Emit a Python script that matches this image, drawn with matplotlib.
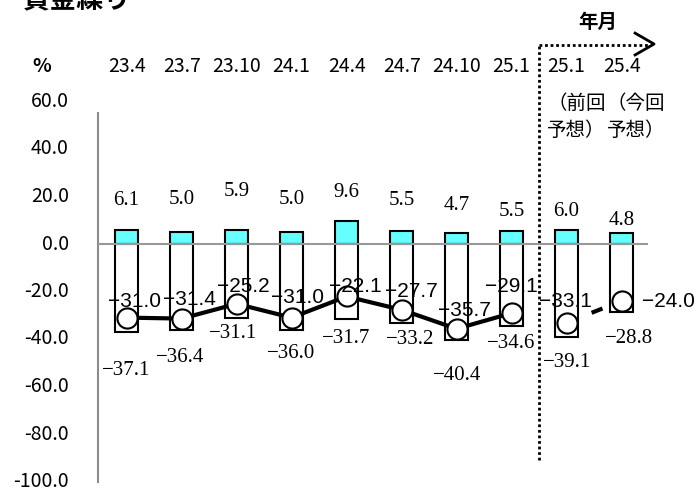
import numpy as np
import matplotlib.pyplot as plt

plt.rcParams['font.family'] = ['Noto Sans CJK JP', 'DejaVu Sans']
plt.rcParams['axes.unicode_minus'] = False

# データ
periods = ['23.4', '23.7', '23.10', '24.1', '24.4', '24.7', '24.10', '25.1', '25.1', '25.4']
up = [6.1, 5.0, 5.9, 5.0, 9.6, 5.5, 4.7, 5.5, 6.0, 4.8]
down = [-37.1, -36.4, -31.1, -36.0, -31.7, -33.2, -40.4, -34.6, -39.1, -28.8]
di = [-31.0, -31.4, -25.2, -31.0, -22.1, -27.7, -35.7, -29.1, -33.1, -24.0]
yticks = [60, 40, 20, 0, -20, -40, -60, -80, -100]
notes = [('（前回', '予想）'), ('（今回', '予想）')]

# ラベル位置（目で合わせた）
up_lab_y = [18.5, 18.9, 22.3, 18.9, 21.5, 18.5, 16.0, 13.5, 13.5, 10.1]
di_lab_x = [0.15, 1.15, 2.13, 3.10, 4.15, 5.17, 6.15, 6.99, 7.97, 9.85]
di_lab_y = [-24.4, -23.2, -17.7, -22.7, -18.1, -20.2, -27.8, -18.1, -24.4, -24.4]
dn_lab_x = [-0.01, 0.97, 1.94, 2.99, 3.99, 5.15, 6.01, 6.99, 8.01, 9.14]
dn_lab_y = [-53.1, -47.6, -37.5, -45.9, -39.6, -40.4, -55.2, -41.7, -50.1, -39.6]

x = np.arange(len(periods))
n_act = 8

fig = plt.figure(figsize=(6.98, 4.92), dpi=100)
ax = fig.add_axes([98 / 698, 10.5 / 492, 550 / 698, 380 / 492])
ax.set_xlim(-0.52, 9.48)
ax.set_ylim(-100, 60)

# 棒
ax.bar(x, up, width=0.41, color='#66FFFF', edgecolor='black', lw=1.5, zorder=2)
ax.bar(x, down, width=0.41, color='white', edgecolor='black', lw=1.5, zorder=2)
ax.axhline(0, color='#999999', lw=1.5, zorder=3)

# DI 折れ線
ax.plot(x[:n_act], di[:n_act], color='black', lw=3, zorder=4)
ax.plot(x[n_act:], di[n_act:], color='black', lw=3, zorder=4,
        linestyle=(7.7, (2.8, 11.35)), dash_capstyle='butt')
ax.plot(x, di, 'o', ms=14.5, mfc='white', mec='black', mew=1.5, zorder=5)

serif = ['Liberation Serif', 'DejaVu Serif']
for i in x:
    ax.text(i, up_lab_y[i], f'{up[i]:.1f}', family=serif, fontsize=15,
            ha='center', va='center', zorder=6)
    ax.text(dn_lab_x[i], dn_lab_y[i], f'{down[i]:.1f}'.replace('-', '−'),
            family=serif, fontsize=15, ha='center', va='center', zorder=6)
    ax.text(di_lab_x[i], di_lab_y[i], f'{di[i]:.1f}'.replace('-', '−'),
            family=['Liberation Sans', 'DejaVu Sans'], fontsize=15,
            ha='center', va='center', zorder=6, clip_on=False)

# 軸
for s in ['top', 'right', 'bottom']:
    ax.spines[s].set_visible(False)
ax.spines['left'].set_color('#8c8c8c')
ax.spines['left'].set_linewidth(1.5)
ax.spines['left'].set_bounds(-100, 55)
ax.set_yticks(yticks, [f'{v:.1f}' for v in yticks])
ax.tick_params(axis='y', length=0, pad=21, labelsize=14)
for lab in ax.get_yticklabels():
    lab.set_va('center')
ax.xaxis.tick_top()
ax.set_xticks(x, periods)
ax.tick_params(axis='x', length=0, pad=18, labelsize=14)

# 予想の区切り
ax.plot([7.5, 7.5], [-91, 83.8], color='black', lw=2, ls=(0, (1, 1)), clip_on=False)
ax.plot([7.5, 9.48], [83.8, 83.8], color='black', lw=2, ls=(0, (1, 1)), clip_on=False)
ax.plot([9.245, 9.59, 9.245], [88.8, 84.2, 79.6], color='black', lw=2, clip_on=False)
ax.text(8.56, 93.5, '年月', fontsize=14, weight='bold', ha='center', va='center')
for k, (a, b) in enumerate(notes):
    ax.text(7.65 + k * 1.08, 59, a, fontsize=14, ha='left', va='center')
    ax.text(7.65 + k * 1.08, 47.6, b, fontsize=14, ha='left', va='center')

fig.text(42 / 698, 1 - 67 / 492, '%', fontsize=14, weight='bold', ha='center', va='center')
fig.text(22 / 698, 1 - 7 / 492, '資金繰り', fontsize=19.5, weight='bold', va='baseline')

fig.savefig('out.png', dpi=100)
